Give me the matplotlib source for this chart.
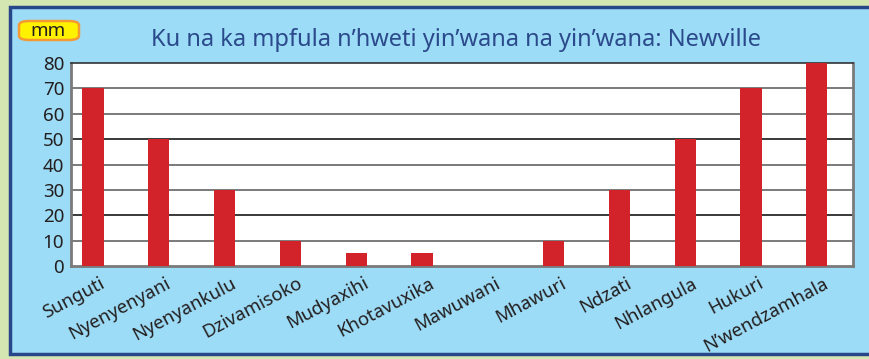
import matplotlib
matplotlib.use("Agg")
import matplotlib.pyplot as plt
from matplotlib.patches import Rectangle, FancyBboxPatch

months = ["Sunguti", "Nyenyenyani", "Nyenyankulu", "Dzivamisoko", "Mudyaxihi",
          "Khotavuxika", "Mawuwani", "Mhawuri", "Ndzati", "Nhlangula", "Hukuri",
          "N’wendzamhala"]
rainfall = [70, 50, 30, 10, 5, 5, 0, 10, 30, 50, 70, 80]
yticks = [0, 10, 20, 30, 40, 50, 60, 70, 80]
title = "Ku na ka mpfula n’hweti yin’wana na yin’wana: Newville"
unit = "mm"

W, H = 869, 359
plt.rcParams["font.family"] = ["Noto Sans", "DejaVu Sans"]
fig = plt.figure(figsize=(W / 100, H / 100), dpi=100)
fig.patch.set_facecolor("#d4e6b1")

# blue panel with dark border
panel = Rectangle((10 / W, 1 - 354 / H), (W + 5 - 10) / W, (354 - 7) / H,
                  transform=fig.transFigure, facecolor="#9ddcf6",
                  edgecolor="#27478a", linewidth=2.5, zorder=0)
fig.add_artist(panel)

# unit badge
badge = FancyBboxPatch((19 / W, 1 - 40 / H), 60 / W, 19 / H,
                       boxstyle="round,pad=0,rounding_size=0.012",
                       transform=fig.transFigure, facecolor="#fff200",
                       edgecolor="#f39a32", linewidth=1.8, zorder=2)
fig.add_artist(badge)
fig.text(48 / W, 1 - 31 / H, unit, ha="center", va="center", fontsize=13.5,
         color="#231f20", zorder=3)

fig.text(456 / W, 1 - 40 / H, title, ha="center", va="center", fontsize=17,
         color="#2b4a8b")

left, right, top, bottom = 71, 853, 63, 266
ax = fig.add_axes([left / W, 1 - bottom / H, (right - left) / W, (bottom - top) / H])
ax.set_facecolor("white")

x = list(range(len(months)))
ax.bar(x, rainfall, width=0.32, color="#d2232a", zorder=3)

ax.set_xlim(-0.334, 11.55)
ax.set_ylim(0, 80)
ax.set_yticks(yticks)
ax.set_yticklabels([str(v) for v in yticks], fontsize=13.5, color="#231f20")
ax.tick_params(axis="y", length=0, pad=5)
for v in yticks[1:-1]:
    dark = v in (20, 50)
    ax.axhline(v, color="#2a2a2a" if dark else "#707070",
               linewidth=1.3, zorder=1)

ax.set_xticks([i + 0.1 for i in x])
ax.set_xticklabels(months, rotation=28, ha="right", rotation_mode="anchor",
                   fontsize=13.3, color="#231f20")
ax.tick_params(axis="x", length=0, pad=6)

for side in ["left", "bottom", "right"]:
    ax.spines[side].set_color("#7a7a7a")
    ax.spines[side].set_linewidth(2)
ax.spines["top"].set_color("#333333")
ax.spines["top"].set_linewidth(1.2)

fig.savefig("out.png", dpi=100, facecolor=fig.get_facecolor())
